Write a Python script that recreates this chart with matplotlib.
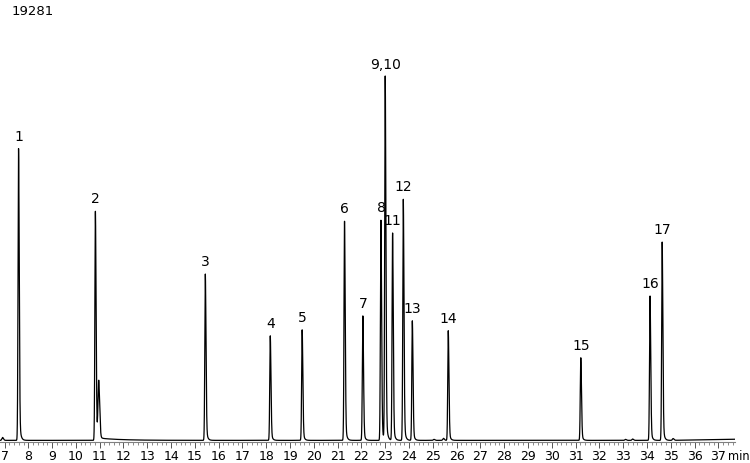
import numpy as np
import matplotlib.pyplot as plt

# peak retention times (min), heights (counts) and labels
peak_times = [7.59, 10.82, 15.44, 18.17, 19.51, 21.29, 22.06, 22.82, 23.00,
              23.31, 23.76, 24.14, 25.65, 31.22, 34.13, 34.64]
peak_heights = [13040, 10235, 7430, 4670, 4940, 9790, 5560, 9835, 16240,
                9260, 10770, 5340, 4900, 3690, 6450, 8860]
peak_labels = ['1', '2', '3', '4', '5', '6', '7', '8', '9,10',
               '11', '12', '13', '14', '15', '16', '17']

# small unlabeled features (shoulder and baseline bumps)
minor_times = [6.92, 10.96, 25.05, 25.45, 33.1, 33.4, 35.1]
minor_heights = [130, 2490, 45, 90, 45, 60, 80]

y_max = 19281
t_start, t_end = 6.81, 37.7

t = np.linspace(t_start, t_end, 30000)


def peak(t, t0, h, s=0.022, tau=0.05):
    front = np.exp(-0.5 * ((t - t0) / s) ** 2)
    back = np.where(t >= t0,
                    0.85 * np.exp(-0.5 * ((t - t0) / (s * 1.3)) ** 2)
                    + 0.15 * np.exp(-(t - t0) / tau), 0)
    return h * np.where(t < t0, front, back)


signal = np.full_like(t, 60.0)
# slow drift after peak 2 and rise at the end
signal += np.where(t > 10.9, 110 * np.exp(-(t - 10.9) / 0.9), 0)
signal += np.where(t > 35.0, 50 * (t - 35.0) / 2.7, 0)
for t0, h in zip(peak_times, peak_heights):
    signal += peak(t, t0, h)
for t0, h in zip(minor_times, minor_heights):
    signal += peak(t, t0, h, s=0.03, tau=0.04)

fig = plt.figure(figsize=(7.5, 4.63), dpi=100)
ax = fig.add_axes([0.0, 0.046, 0.98, 0.932])
ax.plot(t, signal, color='black', lw=0.9)

for t0, h, lab in zip(peak_times, peak_heights, peak_labels):
    ax.text(t0, h + 280, lab, ha='center', va='bottom', fontsize=10)

ax.set_xlim(t_start, t_end)
ax.set_ylim(0, y_max)
for side in ['top', 'right', 'left']:
    ax.spines[side].set_visible(False)
ax.spines['bottom'].set_color('#808080')
ax.spines['bottom'].set_linewidth(0.8)
ax.set_yticks([])
ax.set_xticks(np.arange(7, 38, 1))
ax.set_xticks(np.arange(7, 37.8, 0.2), minor=True)
ax.tick_params(axis='x', which='major', length=4, width=0.7, color='#555555',
               labelsize=9, pad=2)
ax.tick_params(axis='x', which='minor', length=2.5, width=0.6, color='#777777')
ax.annotate('min', xy=(37.42, 0), xycoords=('data', 'axes fraction'),
            xytext=(0, -6.2), textcoords='offset points',
            ha='left', va='top', fontsize=8.3, annotation_clip=False)

fig.text(0.016, 0.99, '19281', ha='left', va='top', fontsize=9.5)

fig.savefig('out.png', dpi=100)
